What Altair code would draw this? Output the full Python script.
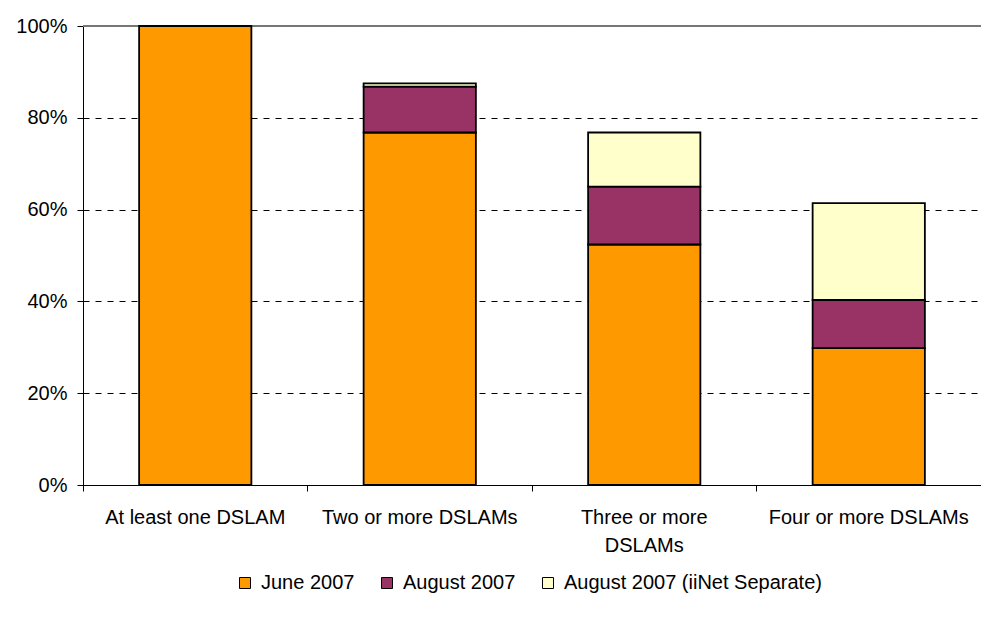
import altair as alt
import pandas as pd

categories = ["At least one DSLAM", "Two or more DSLAMs", "Three or more DSLAMs", "Four or more DSLAMs"]
series = ["June 2007", "August 2007", "August 2007 (iiNet Separate)"]
june = [100.0, 76.8, 52.4, 29.8]
august = [0.0, 10.0, 12.6, 10.5]
iinet = [0.0, 0.7, 11.8, 21.1]
colors = ["#FF9900", "#993366", "#FFFFCC"]

rows = []
for i, c in enumerate(categories):
    for j, (s, vals) in enumerate(zip(series, [june, august, iinet])):
        rows.append({"cat": c, "series": s, "value": vals[i] / 100.0, "ord": j})
df = pd.DataFrame(rows)

FONT = "Liberation Sans"
FS = 20

x_scale = alt.Scale(domain=categories, paddingInner=0, paddingOuter=0)
y_scale = alt.Scale(domain=[0, 1], nice=False)
label_expr = ("datum.value == 'Three or more DSLAMs' ? ['Three or more', 'DSLAMs'] : datum.value")

top_line = alt.Chart(df).mark_rule(color="#777777", strokeWidth=1.5).encode(
    y=alt.datum(1.0, scale=y_scale),
)

bars = alt.Chart(df).mark_bar(
    width=alt.RelativeBandSize(0.5), stroke="black", strokeWidth=1.8
).encode(
    x=alt.X("cat:N", scale=x_scale, sort=categories, title=None,
            axis=alt.Axis(orient="bottom", ticks=False, domain=False, grid=False,
                          labelAngle=0, labelFont=FONT, labelFontSize=FS,
                          labelColor="black", labelPadding=22, labelLimit=300,
                          labelLineHeight=28, labelExpr=label_expr)),
    y=alt.Y("value:Q", stack="zero", title=None, scale=y_scale,
            axis=alt.Axis(format="%", values=[0, 0.2, 0.4, 0.6, 0.8, 1.0],
                          grid=True, gridDash=[6, 6], gridColor="black",
                          gridWidth=1, tickSize=6, tickColor="black",
                          domainColor="black", labelFont=FONT, labelFontSize=FS,
                          labelColor="black", labelPadding=10)),
    color=alt.Color("series:N", sort=series,
                    scale=alt.Scale(domain=series, range=colors),
                    legend=alt.Legend(title=None, orient="none", direction="horizontal",
                                      legendX=152, legendY=547,
                                      symbolType="square", symbolSize=121,
                                      symbolStrokeColor="black", symbolStrokeWidth=1,
                                      labelFont=FONT, labelFontSize=FS,
                                      labelColor="black", labelOffset=6,
                                      columnPadding=22, labelLimit=400)),
    order=alt.Order("ord:Q"),
)

ticks = alt.Chart(df).mark_point(opacity=0).encode(
    x=alt.X("cat:N", scale=x_scale, sort=categories, title=None,
            axis=alt.Axis(orient="bottom", bandPosition=0, labels=False, ticks=True,
                          tickSize=6, tickColor="black", domain=True,
                          domainColor="black", grid=False)),
)

chart = alt.layer(ticks, top_line, bars).resolve_axis(x="independent").properties(
    width=898, height=459,
    autosize=alt.AutoSizeParams(type="none"),
    padding={"left": 83, "top": 26, "right": 0, "bottom": 133},
).configure_view(stroke=None).configure(background="white")

chart.save("out.html", embed_options={"renderer": "svg", "actions": False})
